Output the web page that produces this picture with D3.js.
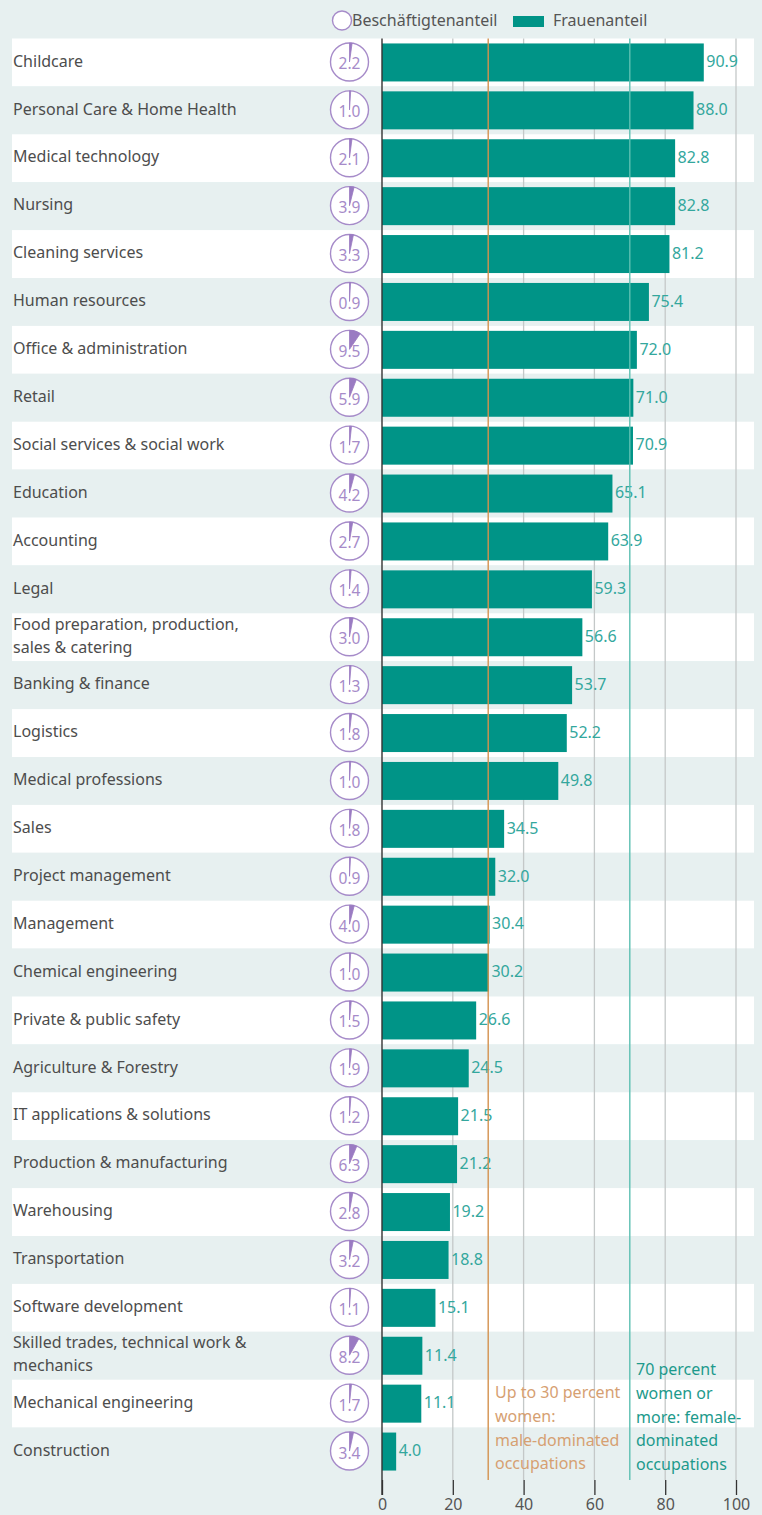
<!DOCTYPE html>
<html><head><meta charset="utf-8">
<script src="https://cdn.jsdelivr.net/npm/d3@7"></script>
<style>
html,body{margin:0;padding:0;background:#e7f0f0;}
svg{display:block;font-family:"Noto Sans",sans-serif;}
</style></head>
<body>
<svg id="chart" width="762" height="1515"></svg>
<script>
const categories = [
  "Childcare","Personal Care & Home Health","Medical technology","Nursing","Cleaning services",
  "Human resources","Office & administration","Retail","Social services & social work","Education",
  "Accounting","Legal","Food preparation, production,|sales & catering","Banking & finance","Logistics",
  "Medical professions","Sales","Project management","Management","Chemical engineering",
  "Private & public safety","Agriculture & Forestry","IT applications & solutions","Production & manufacturing","Warehousing",
  "Transportation","Software development","Skilled trades, technical work &|mechanics","Mechanical engineering","Construction"
];
const employmentShare = [2.2,1.0,2.1,3.9,3.3,0.9,9.5,5.9,1.7,4.2,2.7,1.4,3.0,1.3,1.8,1.0,1.8,0.9,4.0,1.0,1.5,1.9,1.2,6.3,2.8,3.2,1.1,8.2,1.7,3.4];
const womenShare = [90.9,88.0,82.8,82.8,81.2,75.4,72.0,71.0,70.9,65.1,63.9,59.3,56.6,53.7,52.2,49.8,34.5,32.0,30.4,30.2,26.6,24.5,21.5,21.2,19.2,18.8,15.1,11.4,11.1,4.0];
const xTicks = [0,20,40,60,80,100];
const legendLabels = ["Beschäftigtenanteil","Frauenanteil"];
const maleNote = ["Up to 30 percent","women:","male-dominated","occupations"];
const femaleNote = ["70 percent","women or","more: female-","dominated","occupations"];

const svg = d3.select("#chart");
const topY = 38.5, step = 47.9;
const x = d3.scaleLinear().domain([0,100]).range([382,736]);
const rowY = i => topY + i*step;
const cy = i => rowY(i) + step/2;

const BAR = "#009487", VAL = "#33a79d", PURPLE = "#a68bc9", PURPLE_FILL = "#9a7bc2";
const ORANGE = "#d4914f", TEAL_LINE = "#5dbfb2", TEXT = "#4d4d4d";

// row backgrounds
svg.append("g").selectAll("rect").data(categories).join("rect")
  .attr("x", 12).attr("width", 742)
  .attr("y", (d,i)=>rowY(i)).attr("height", step)
  .attr("fill", (d,i)=> i%2===0 ? "#ffffff" : "#e7f0f0");

const bottomGrid = 1480;
// grid lines
svg.append("g").selectAll("line").data(xTicks.filter(t=>t>0)).join("line")
  .attr("x1", d=>x(d)).attr("x2", d=>x(d))
  .attr("y1", topY).attr("y2", bottomGrid)
  .attr("stroke", "#c4c8c8").attr("stroke-width", 1.3);

// bars
svg.append("g").selectAll("rect").data(womenShare).join("rect")
  .attr("x", x(0)).attr("width", d=>x(d)-x(0))
  .attr("y", (d,i)=>cy(i)-19).attr("height", 38)
  .attr("fill", BAR);

// value labels
svg.append("g").selectAll("text").data(womenShare).join("text")
  .attr("x", d=>x(d)+2.5).attr("y", (d,i)=>cy(i)).attr("dy","0.3em")
  .attr("font-size", 16).attr("fill", VAL)
  .text(d=>d.toFixed(1));

// reference lines
svg.append("line").attr("x1", x(30)).attr("x2", x(30)).attr("y1", topY).attr("y2", bottomGrid)
  .attr("stroke", ORANGE).attr("stroke-width", 1.4);
svg.append("line").attr("x1", x(70)).attr("x2", x(70)).attr("y1", topY).attr("y2", bottomGrid)
  .attr("stroke", TEAL_LINE).attr("stroke-width", 1.4);

// axis
const axis = d3.axisBottom(x).tickValues(xTicks).tickSize(15).tickPadding(4).tickFormat(d3.format("d"));
const ag = svg.append("g").attr("transform", `translate(0,${bottomGrid})`).call(axis);
ag.select(".domain").remove();
ag.selectAll(".tick line").attr("stroke", "#333").attr("stroke-width", 1.3);
ag.selectAll(".tick text").attr("font-size", 16).attr("fill", "#555").attr("font-family", "Noto Sans, sans-serif");
svg.append("line").attr("x1", x(0)).attr("x2", x(0)).attr("y1", topY).attr("y2", 1495)
  .attr("stroke", "#333").attr("stroke-width", 1.4);

// category labels
const lab = svg.append("g").selectAll("text").data(categories).join("text")
  .attr("x", 13).attr("font-size", 16).attr("fill", TEXT);
lab.each(function(d,i){
  const lines = d.split("|");
  const t = d3.select(this);
  lines.forEach((l,k)=>{
    const off = (k - (lines.length-1)/2) * 23;
    t.append("tspan").attr("x", 13).attr("y", cy(i)+off).attr("dy","0.26em").text(l);
  });
});

// pies
const R = 19, px = 349.5;
const arc = d3.arc().innerRadius(0).outerRadius(R);
const pies = svg.append("g").selectAll("g").data(employmentShare).join("g")
  .attr("transform", (d,i)=>`translate(${px},${cy(i)-0.5})`);
pies.append("circle").attr("r", R).attr("fill", "#fff").attr("stroke", PURPLE).attr("stroke-width", 1.4);
pies.append("text").attr("text-anchor","middle").attr("y", 7.5).attr("font-size", 15.5)
  .attr("fill", PURPLE).text(d=>d.toFixed(1));
pies.append("path").attr("d", d=>arc({startAngle:0, endAngle: 2*Math.PI*d/100}))
  .attr("fill", PURPLE_FILL).attr("stroke", PURPLE_FILL).attr("stroke-width", 0.8);

// legend
const lg = svg.append("g");
lg.append("circle").attr("cx", 342).attr("cy", 20.5).attr("r", 9.5).attr("fill","#fff").attr("stroke", PURPLE).attr("stroke-width",1.4);
lg.append("text").attr("x", 352).attr("y", 20.5).attr("dy","0.35em").attr("font-size",16).attr("fill","#555").text(legendLabels[0]);
lg.append("rect").attr("x", 513).attr("y", 16).attr("width", 31).attr("height", 11).attr("fill", BAR);
lg.append("text").attr("x", 553).attr("y", 20.5).attr("dy","0.35em").attr("font-size",16).attr("fill","#555").text(legendLabels[1]);

// annotations
svg.append("g").selectAll("text").data(maleNote).join("text")
  .attr("x", 495).attr("y", (d,i)=>1398 + i*23.8).attr("font-size",16).attr("fill", "#d6a072").text(d=>d);
svg.append("g").selectAll("text").data(femaleNote).join("text")
  .attr("x", 636).attr("y", (d,i)=>1375 + i*23.8).attr("font-size",16).attr("fill", "#1d9a8c").text(d=>d);
</script>
</body></html>
